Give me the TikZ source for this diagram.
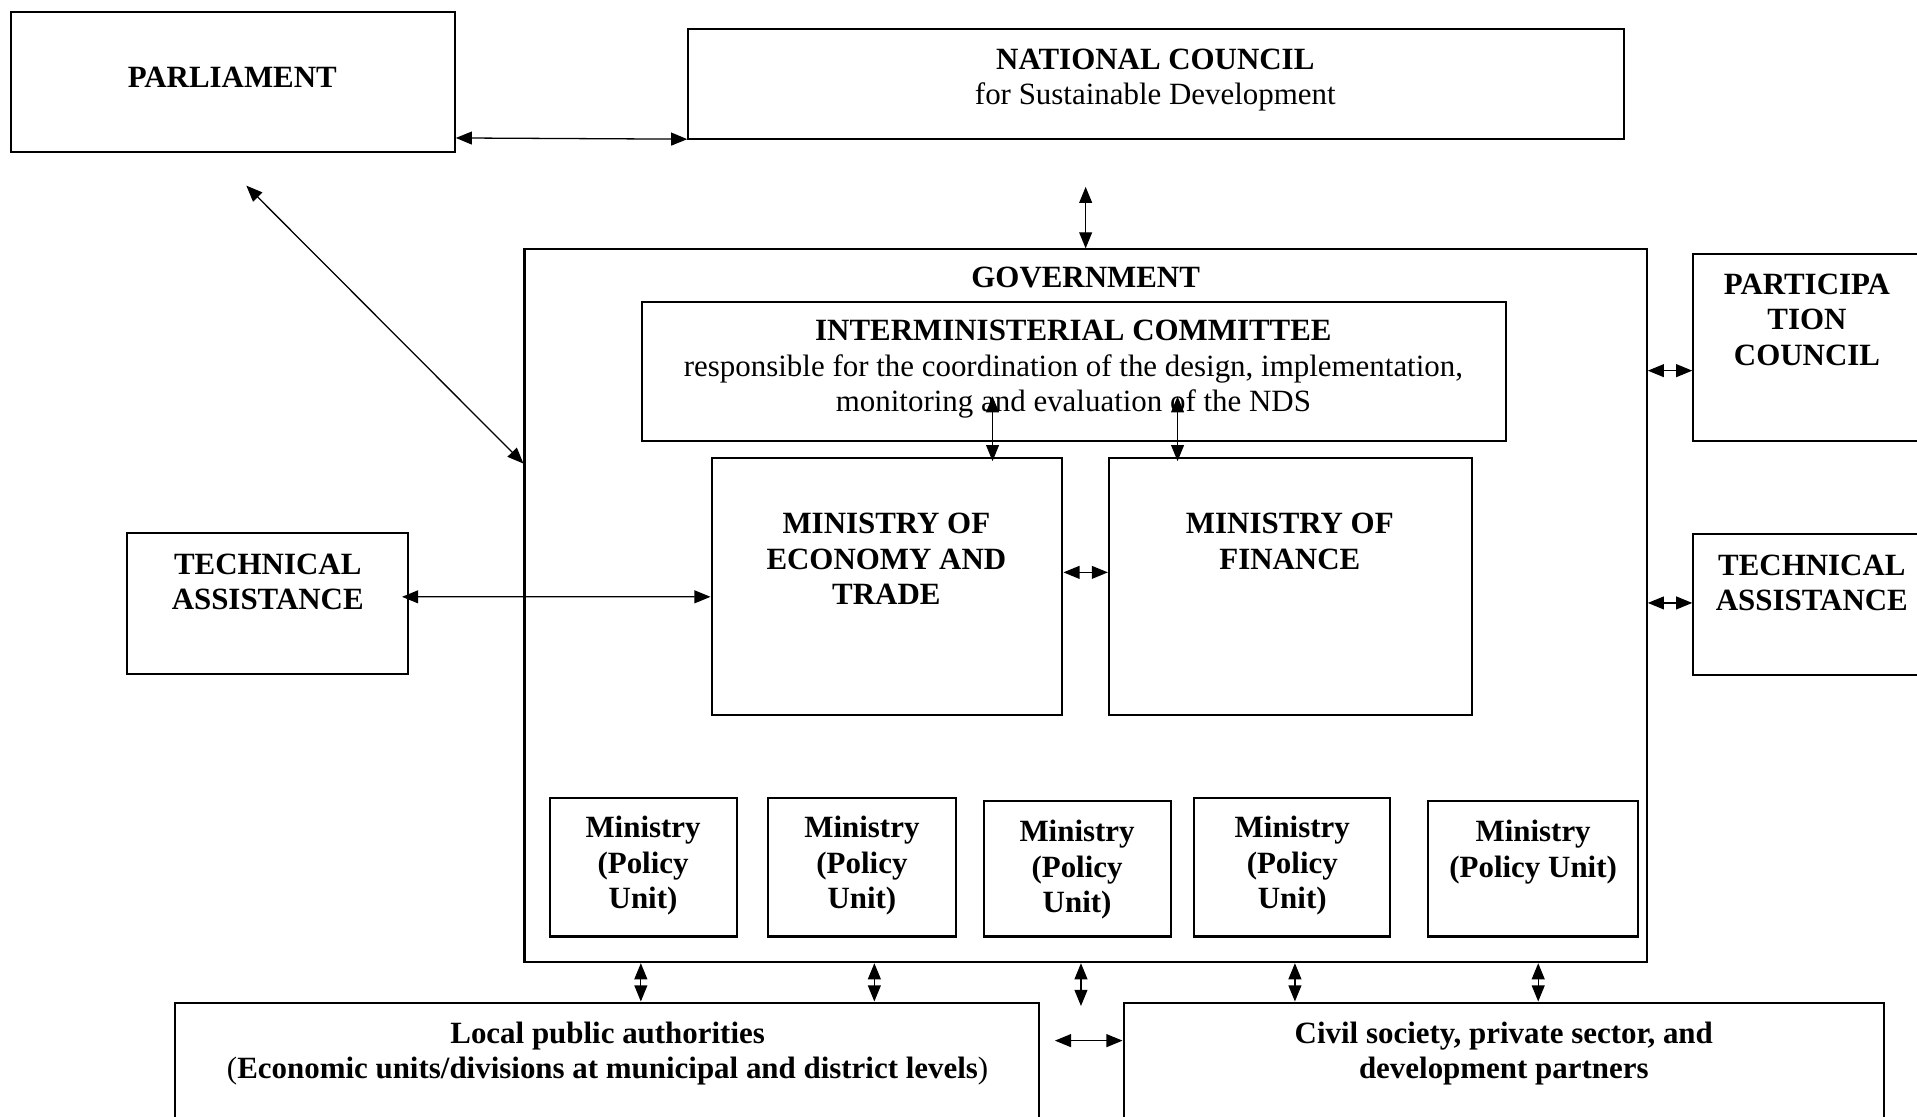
\documentclass[tikz,border=0pt]{standalone}
\usepackage{fontspec}
\setmainfont{Liberation Serif}
\usetikzlibrary{arrows.meta,calc,fit}
\begin{document}
\begin{tikzpicture}[x=0.02cm,y=-0.02cm,
  box/.style={draw,line width=0.95pt,inner sep=0pt},
  txt/.style={align=center,inner sep=0pt,font=\fontsize{14.4}{16.5}\selectfont\bfseries},
  txtn/.style={txt,anchor=north},
  biarrow/.style={{Triangle[length=7.5pt,width=6pt]}-{Triangle[length=7.5pt,width=6pt]},line width=0.6pt}]
\useasboundingbox (0,0) rectangle (1568,913);
\fill[white] (0,0) rectangle (1568,913);
\clip (0,0) rectangle (1568,913);
% boxes
\node[box,fit={(9,10) (372,124)}] (parl) {};
\node[box,fit={(563,24) (1328,114)}] (nc) {};
\node[box,fit={(429,204) (1347,787)}] (gov) {};
\node[box,fit={(525,247) (1232,361)}] (ic) {};
\node[box,fit={(582,375) (869,585)}] (moet) {};
\node[box,fit={(907,375) (1204,585)}] (mof) {};
\node[box,fit={(104,436) (334,551)}] (tal) {};
\node[box,fit={(1385,208) (1590,361)}] (pc) {};
\node[box,fit={(1385,437) (1590,552)}] (tar) {};
\node[box,fit={(450,653) (603,766)}] (m1) {};
\node[box,fit={(628,653) (782,766)}] (m2) {};
\node[box,fit={(805,655) (958,766)}] (m3) {};
\node[box,fit={(977,653) (1137,766)}] (m4) {};
\node[box,fit={(1168,655) (1340,766)}] (m5) {};
\node[box,fit={(143,820) (850,940)}] (local) {};
\node[box,fit={(919,820) (1541,940)}] (civil) {};
% texts
\node[txt] (tparl) at (190,63) {PARLIAMENT};
\node[txtn] (tnc) at (945,39.5) {NATIONAL COUNCIL\\\mdseries for Sustainable Development};
\node[txt] (tgov) at (888,227) {GOVERNMENT};
\node[txtn] (tic) at (878,261.5) {INTERMINISTERIAL COMMITTEE\\\mdseries responsible for the coordination of the design, implementation,\\\mdseries monitoring and evaluation of the NDS};
\node[txtn] (tmoet) at (725,419.5) {MINISTRY OF\\ECONOMY AND\\TRADE};
\node[txtn] (tmof) at (1055,419.5) {MINISTRY OF\\FINANCE};
\node[txtn] (ttal) at (219,452.5) {TECHNICAL\\ASSISTANCE};
\node[txtn] (tpc) at (1478,223.5) {PARTICIPA\\TION\\COUNCIL};
\node[txtn] (ttar) at (1482,453.5) {TECHNICAL\\ASSISTANCE};
\node[txtn] (tm1) at (526,667.5) {Ministry\\(Policy\\Unit)};
\node[txtn] (tm2) at (705,667.5) {Ministry\\(Policy\\Unit)};
\node[txtn] (tm3) at (881,670.5) {Ministry\\(Policy\\Unit)};
\node[txtn] (tm4) at (1057,667.5) {Ministry\\(Policy\\Unit)};
\node[txtn] (tm5) at (1254,670.5) {Ministry\\(Policy Unit)};
\node[txtn] (tlocal) at (497,835.5) {Local public authorities\\{\mdseries(}Economic units/divisions at municipal and district levels{\mdseries)}};
\node[txtn] (tcivil) at (1230,835.5) {Civil society, private sector, and\\development partners};
% connectors
\draw[biarrow] ($(parl.south east)+(0,-12)$) -- ($(nc.south west)+(0,-1)$);
\draw[biarrow] ($(gov.north |- nc.south)+(0,38)$) -- (gov.north);
\draw[biarrow] ($(parl.south)+(11,27)$) -- ($(gov.north west)+(0,176)$);
\draw[biarrow] ($(moet.north east)+(-58,-50)$) -- ($(moet.north east)+(-58,3)$);
\draw[biarrow] ($(mof.north west)+(57,-50)$) -- ($(mof.north west)+(57,3)$);
\draw[biarrow] ($(moet.north east)+(0,94)$) -- ($(mof.north west)+(0,94)$);
\draw[biarrow] ($(tal.north east)+(-6,53)$) -- ($(moet.north west)+(0,114)$);
\draw[biarrow] ($(gov.north east)+(0,100)$) -- ($(pc.north west)+(0,96)$);
\draw[biarrow] ($(gov.north east)+(0,290)$) -- ($(tar.north west)+(0,57)$);
\draw[biarrow] ($(gov.south west)+(96,0)$) -- ($(local.north west)+(382,0)$);
\draw[biarrow] ($(gov.south west)+(287,0)$) -- ($(local.north west)+(573,0)$);
\draw[biarrow] ($(gov.south west)+(456,0)$) -- ($(gov.south west)+(456,35)$);
\draw[biarrow] ($(gov.south west)+(631,0)$) -- ($(civil.north west)+(141,0)$);
\draw[biarrow] ($(gov.south west)+(830,0)$) -- ($(civil.north west)+(340,0)$);
\draw[biarrow] ($(local.north east)+(12,32)$) -- ($(civil.north west)+(0,32)$);
\end{tikzpicture}
\end{document}
